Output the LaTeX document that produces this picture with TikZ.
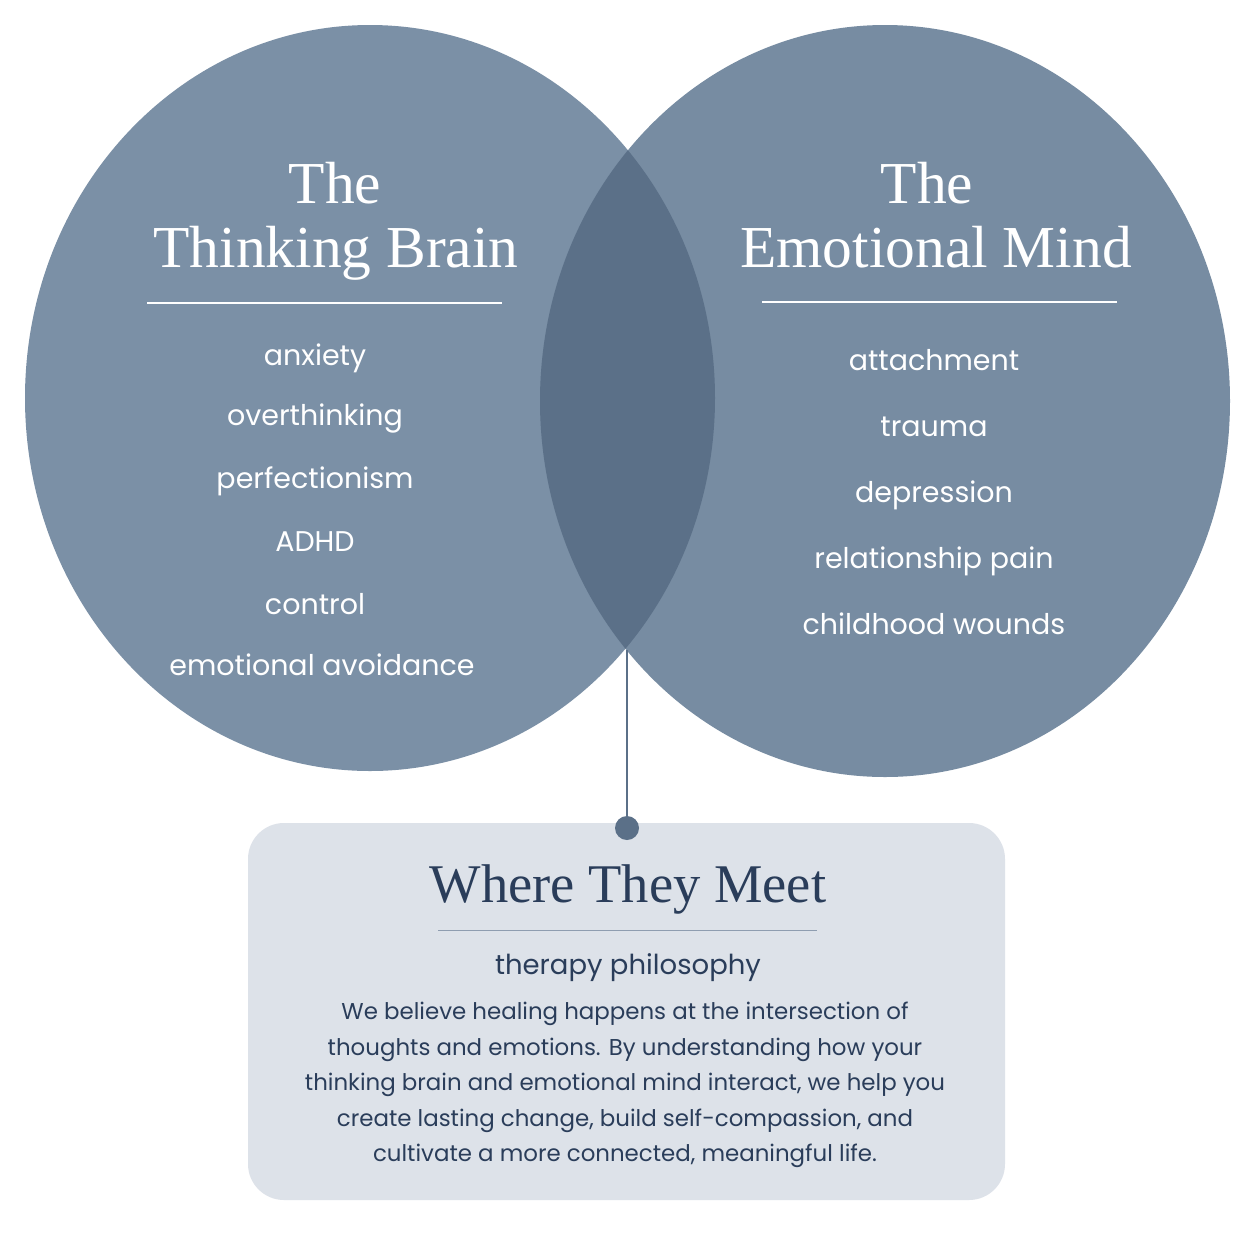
\documentclass[tikz,border=0pt]{standalone}
\usepackage{fontspec}
\newfontfamily\bodyfont{Poppins}
\newfontfamily\titlefont{Liberation Serif}
\definecolor{leftc}{HTML}{7B90A6}
\definecolor{rightc}{HTML}{778CA2}
\definecolor{lensc}{HTML}{5B7088}
\definecolor{boxc}{HTML}{DDE2E9}
\definecolor{navy}{HTML}{2A3D5A}
\definecolor{rulec}{HTML}{8E9DB0}
\begin{document}
\begin{tikzpicture}[x=1pt,y=-1pt,
  ttl/.style={text=white,font=\titlefont\fontsize{59.5}{60}\selectfont,anchor=base,inner sep=0},
  item/.style={text=white,font=\bodyfont\fontsize{28.5}{29}\selectfont,anchor=base,inner sep=0},
  body/.style={text=navy,font=\bodyfont\fontsize{22.9}{23}\selectfont,anchor=base,inner sep=0}]
\useasboundingbox[fill=white] (0,0) rectangle (1254,1254);
% circles
\fill[leftc] (370,398) ellipse [x radius=345, y radius=373];
\fill[rightc] (885,401) ellipse [x radius=345, y radius=376];
\begin{scope}
  \clip (370,398) ellipse [x radius=345, y radius=373];
  \fill[lensc] (885,401) ellipse [x radius=345, y radius=376];
\end{scope}
% left title
\node[ttl] (lt1) at (335,203) {The};
\node[ttl] (lt2) at (336,267) {Thinking Brain};
\draw[white,line width=1.5] (147,303) -- (502,303);
\node[item] (l1) at (315,365) {anxiety};
\node[item] (l2) at (315,425) {overthinking};
\node[item] (l3) at (315,488) {perfectionism};
\node[item] (l4) at (315,551) {ADHD};
\node[item] (l5) at (315,614) {control};
\node[item] (l6) at (322,675) {emotional avoidance};
% right title
\node[ttl] (rt1) at (927,203) {The};
\node[ttl] (rt2) at (936,267) {Emotional Mind};
\draw[white,line width=1.5] (762,302) -- (1117,302);
\node[item] (r1) at (934,370) {attachment};
\node[item] (r2) at (934,436) {trauma};
\node[item] (r3) at (934,502) {depression};
\node[item] (r4) at (934,568) {relationship pain};
\node[item] (r5) at (934,634) {childhood wounds};
% box
\fill[boxc,rounded corners=36] (248,823) rectangle (1005,1200);
\coordinate (meet) at (627,650);
\node[circle,fill=lensc,minimum size=24,inner sep=0] (dot) at (627,828) {};
\draw[lensc,line width=2.5] (meet) -- (dot);
\node[text=navy,font=\titlefont\fontsize{54.5}{55}\selectfont,anchor=base,inner sep=0] (bt) at (628,902) {Where They Meet};
\draw[rulec,line width=1] (438,930) -- (817,930);
\node[body,font=\bodyfont\fontsize{27.5}{28}\selectfont] (sub) at (628,974) {therapy philosophy};
\node[body] (b1) at (625,1019) {We believe healing happens at the intersection of};
\node[body] (b2) at (625,1055) {thoughts and emotions. By understanding how your};
\node[body] (b3) at (625,1090) {thinking brain and emotional mind interact, we help you};
\node[body] (b4) at (625,1126) {create lasting change, build self-compassion, and};
\node[body] (b5) at (625,1161) {cultivate a more connected, meaningful life.};
\end{tikzpicture}
\end{document}
